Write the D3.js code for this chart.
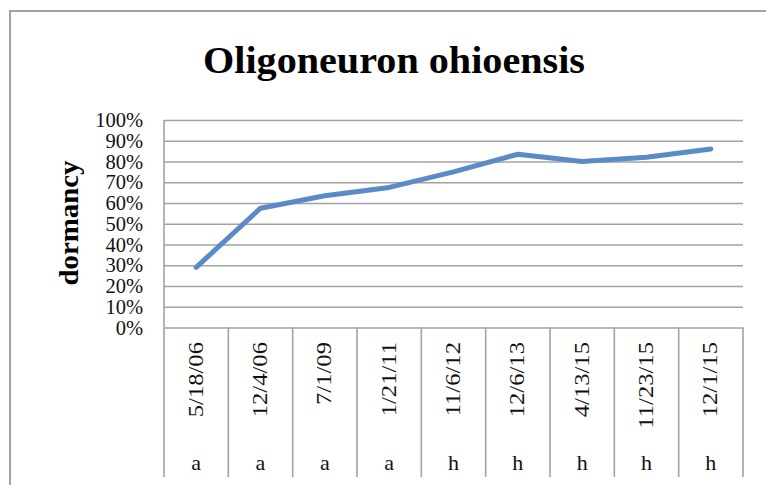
<!DOCTYPE html>
<html>
<head>
<meta charset="utf-8">
<script src="https://cdn.jsdelivr.net/npm/d3@7"></script>
<style>
  html, body { margin: 0; padding: 0; background: #fff; }
  svg { display: block; }
</style>
</head>
<body>
<svg id="chart" width="766" height="485"></svg>
<script>
// Survey dates, site codes and dormancy share per visit
const dates = ["5/18/06", "12/4/06", "7/1/09", "1/21/11", "11/6/12", "12/6/13", "4/13/15", "11/23/15", "12/1/15"];
const sites = ["a", "a", "a", "a", "h", "h", "h", "h", "h"];
const dormancy = [0.29, 0.575, 0.635, 0.675, 0.75, 0.835, 0.80, 0.82, 0.86];
const yTicks = [0, 0.1, 0.2, 0.3, 0.4, 0.5, 0.6, 0.7, 0.8, 0.9, 1.0];

const svg = d3.select("#chart");
const W = 766, H = 485;
const plot = { left: 164, right: 743, top: 120, bottom: 327.5 };
const grey = "#a2a2a2";
const serif = "'Liberation Serif', serif";

// outer chart frame (runs off the right and bottom edges)
svg.append("rect")
  .attr("x", 10).attr("y", 11)
  .attr("width", W + 20).attr("height", H + 20)
  .attr("fill", "#fff").attr("stroke", grey).attr("stroke-width", 2);

const x = d3.scaleBand().domain(dates).range([plot.left, plot.right]).padding(0);
const y = d3.scaleLinear().domain([0, 1]).range([plot.bottom, plot.top]);

// horizontal gridlines
svg.append("g")
  .attr("transform", `translate(${plot.left},0)`)
  .call(d3.axisLeft(y).tickValues(yTicks).tickSize(-(plot.right - plot.left)).tickFormat(""))
  .call(g => g.select(".domain").remove())
  .call(g => g.selectAll("line").attr("stroke", grey).attr("stroke-width", 1.6));

// y tick labels
svg.append("g")
  .attr("transform", `translate(${plot.left},0)`)
  .call(d3.axisLeft(y).tickValues(yTicks).tickSize(0).tickPadding(21).tickFormat(d3.format(".0%")))
  .call(g => g.select(".domain").remove())
  .call(g => g.selectAll("text")
    .attr("font-family", serif).attr("font-size", 20.5).attr("fill", "#111"));

// vertical axis line
svg.append("line")
  .attr("x1", plot.left).attr("x2", plot.left)
  .attr("y1", plot.top).attr("y2", plot.bottom)
  .attr("stroke", grey).attr("stroke-width", 1.6);

// category boundaries below the plot
const bounds = dates.map(d => x(d)).concat([plot.right]);
svg.append("g").selectAll("line").data(bounds).join("line")
  .attr("x1", d => d).attr("x2", d => d)
  .attr("y1", plot.bottom).attr("y2", 477)
  .attr("stroke", grey).attr("stroke-width", 1.6);

// date labels (rotated, slightly widened)
svg.append("g").selectAll("text").data(dates).join("text")
  .attr("transform", d => `translate(${x(d) + x.bandwidth() / 2 - 1},342) rotate(-90) scale(1.12,1)`)
  .attr("text-anchor", "end").attr("dy", "0.34em")
  .attr("font-family", serif).attr("font-size", 22).attr("fill", "#111")
  .text(d => d);

// site labels
svg.append("g").selectAll("text").data(sites).join("text")
  .attr("x", (d, i) => x(dates[i]) + x.bandwidth() / 2)
  .attr("y", 470)
  .attr("text-anchor", "middle")
  .attr("font-family", serif).attr("font-size", 22).attr("fill", "#111")
  .text(d => d);

// dormancy line
const line = d3.line()
  .x((d, i) => x(dates[i]) + x.bandwidth() / 2)
  .y(d => y(d));
svg.append("path")
  .datum(dormancy)
  .attr("d", line)
  .attr("fill", "none")
  .attr("stroke", "#5a8bc6")
  .attr("stroke-width", 5)
  .attr("stroke-linejoin", "round")
  .attr("stroke-linecap", "round");

// title
svg.append("text")
  .attr("x", 394).attr("y", 73)
  .attr("text-anchor", "middle")
  .attr("font-family", serif).attr("font-weight", "bold")
  .attr("font-size", 37).attr("fill", "#000")
  .attr("textLength", 382).attr("lengthAdjust", "spacingAndGlyphs")
  .text("Oligoneuron ohioensis");

// y axis title
svg.append("text")
  .attr("transform", "translate(78,223) rotate(-90)")
  .attr("text-anchor", "middle")
  .attr("font-family", serif).attr("font-weight", "bold")
  .attr("font-size", 27).attr("fill", "#000")
  .attr("textLength", 125).attr("lengthAdjust", "spacingAndGlyphs")
  .text("dormancy");
</script>
</body>
</html>
